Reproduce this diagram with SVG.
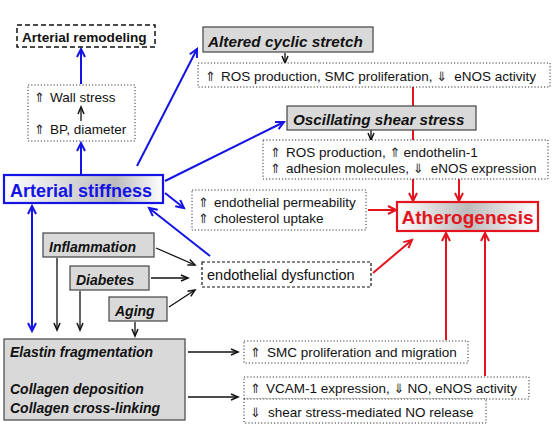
<svg xmlns="http://www.w3.org/2000/svg" width="559" height="438" viewBox="0 0 559 438">
<style>
.t{font-family:"Liberation Sans",Arial,sans-serif;font-size:13.5px;fill:#111}
.a{font-family:"DejaVu Sans",sans-serif;font-size:13px;fill:#222}
.bi{font-family:"Liberation Sans",sans-serif;font-size:14px;font-weight:bold;font-style:italic;fill:#111}
.gray{fill:#d9d9d9;stroke:#444;stroke-width:1.2}
.dot{fill:#fff;stroke:#333;stroke-width:1;stroke-dasharray:1.2 2}
.dash{fill:#fff;stroke:#111;stroke-width:1.5;stroke-dasharray:5 3}
.bl{stroke:#1414e6;stroke-width:2;fill:none}
.rd{stroke:#e3141e;stroke-width:2;fill:none}
.bk{stroke:#111;stroke-width:1.3;fill:none}
</style>
<defs>
<marker id="ab" markerUnits="userSpaceOnUse" markerWidth="12" markerHeight="12" refX="9" refY="5" orient="auto"><path d="M1,1 L9,5 L1,9" fill="none" stroke="#1414e6" stroke-width="2"/></marker>
<marker id="ar" markerUnits="userSpaceOnUse" markerWidth="12" markerHeight="12" refX="9" refY="5" orient="auto"><path d="M1,1 L9,5 L1,9" fill="none" stroke="#e3141e" stroke-width="2"/></marker>
<marker id="ak" markerUnits="userSpaceOnUse" markerWidth="10" markerHeight="10" refX="8" refY="4" orient="auto"><path d="M1,1 L8,4 L1,7" fill="none" stroke="#111" stroke-width="1.5"/></marker>
<linearGradient id="gs" x1="0" x2="1" y1="0" y2="0"><stop offset="0" stop-color="#fff"/><stop offset="0.7" stop-color="#bbb"/><stop offset="1" stop-color="#fff"/></linearGradient>
<linearGradient id="ga" x1="0" x2="1" y1="0" y2="0"><stop offset="0" stop-color="#fff"/><stop offset="0.5" stop-color="#bbb"/><stop offset="1" stop-color="#fff"/></linearGradient>
</defs>
<rect x="0" y="0" width="559" height="438" fill="#fff"/>
<g id="connectors">
<line class="rd" x1="413" y1="87" x2="413" y2="201" marker-end="url(#ar)"/>
<line class="rd" x1="459" y1="179" x2="459" y2="201" marker-end="url(#ar)"/>
<line class="rd" x1="368" y1="210" x2="396" y2="210" marker-end="url(#ar)"/>
<line class="rd" x1="373" y1="273" x2="412" y2="240" marker-end="url(#ar)"/>
<line class="rd" x1="446" y1="340" x2="446" y2="233" marker-end="url(#ar)"/>
<line class="rd" x1="485" y1="376" x2="485" y2="233" marker-end="url(#ar)"/>
<line class="bl" x1="81" y1="84" x2="81" y2="49" marker-end="url(#ab)"/>
<line class="bl" x1="81" y1="174" x2="81" y2="143" marker-end="url(#ab)"/>
<line class="bl" x1="137" y1="166" x2="197" y2="49" marker-end="url(#ab)"/>
<line class="bl" x1="165" y1="181" x2="284" y2="122" marker-end="url(#ab)"/>
<line class="bl" x1="165" y1="193" x2="184" y2="208" marker-end="url(#ab)"/>
<line class="bl" x1="210" y1="256" x2="149" y2="208" marker-end="url(#ab)"/>
<line class="bl" x1="32" y1="220" x2="32" y2="206" marker-end="url(#ab)"/>
<line class="bl" x1="32" y1="210" x2="32" y2="331" marker-end="url(#ab)"/>
<line class="bk" x1="285" y1="53" x2="285" y2="63" marker-end="url(#ak)"/>
<line class="bk" x1="371" y1="130" x2="371" y2="140" marker-end="url(#ak)"/>
<line class="bk" x1="156" y1="248" x2="195" y2="265" marker-end="url(#ak)"/>
<line class="bk" x1="151" y1="278" x2="188" y2="278" marker-end="url(#ak)"/>
<line class="bk" x1="169" y1="307" x2="195" y2="290" marker-end="url(#ak)"/>
<line class="bk" x1="57" y1="258" x2="57" y2="330" marker-end="url(#ak)"/>
<line class="bk" x1="80" y1="291" x2="80" y2="330" marker-end="url(#ak)"/>
<line class="bk" x1="135" y1="322" x2="135" y2="336" marker-end="url(#ak)"/>
<line class="bk" x1="188" y1="352" x2="238" y2="352" marker-end="url(#ak)"/>
<line class="bk" x1="188" y1="397" x2="238" y2="397" marker-end="url(#ak)"/>
</g>

<g id="remodeling"><rect class="dash" x="17" y="25" width="138" height="22"/><text x="22" y="42" class="t" style="font-weight:bold;font-size:13.6px">Arterial remodeling</text></g>

<g id="wallstress"><rect class="dot" x="28" y="85" width="107" height="56"/>
<text x="34" y="102" class="t"><tspan class="a">⇑</tspan><tspan x="50">Wall stress</tspan></text>
<text x="34" y="134" class="t"><tspan class="a">⇑</tspan><tspan x="50">BP, diameter</tspan></text>
<line class="bk" x1="81" y1="121" x2="81" y2="107" marker-end="url(#ak)"/></g>

<g id="cyclic"><rect class="gray" x="203" y="27" width="170" height="25"/><text x="208" y="47" class="bi" style="font-size:15.3px">Altered cyclic stretch</text></g>

<g id="ros1"><rect class="dot" x="198" y="63" width="352" height="24"/><text x="205" y="81" class="t"><tspan class="a">⇑</tspan><tspan x="221">ROS production, SMC proliferation, </tspan><tspan class="a">⇓</tspan><tspan dx="7">eNOS activity</tspan></text></g>

<g id="oscillating"><rect class="gray" x="287" y="106" width="189" height="24"/><text x="293" y="125" class="bi" style="font-size:15.2px">Oscillating shear stress</text></g>

<g id="ros2"><rect class="dot" x="263" y="140" width="285" height="39"/>
<text x="270" y="157" class="t"><tspan class="a">⇑</tspan><tspan x="286">ROS production, </tspan><tspan class="a">⇑</tspan><tspan dx="3">endothelin-1</tspan></text>
<text x="270" y="173" class="t"><tspan class="a">⇑</tspan><tspan x="286">adhesion molecules, </tspan><tspan class="a">⇓</tspan><tspan dx="7">eNOS expression</tspan></text></g>

<g id="stiffness"><rect x="4" y="175" width="159" height="28" fill="url(#gs)" stroke="#1414e6" stroke-width="2.2"/><text x="10" y="197" style="font-family:'Liberation Sans',sans-serif;font-weight:bold;font-size:18px;fill:#1414e6">Arterial stiffness</text></g>

<g id="permeability"><rect class="dot" x="192" y="190" width="174" height="40"/>
<text x="198" y="207" class="t"><tspan class="a">⇑</tspan><tspan x="214">endothelial permeability</tspan></text>
<text x="198" y="223" class="t"><tspan class="a">⇑</tspan><tspan x="214">cholesterol uptake</tspan></text></g>

<g id="atherogenesis"><rect x="397" y="202" width="141" height="29" fill="url(#ga)" stroke="#e3141e" stroke-width="2.2"/><text x="467.5" y="224" text-anchor="middle" style="font-family:'Liberation Sans',sans-serif;font-weight:bold;font-size:19px;fill:#e3141e">Atherogenesis</text></g>

<g id="dysfunction"><rect class="dash" x="202" y="262" width="169" height="25" style="stroke-width:1.2;stroke-dasharray:3 2"/><text x="207" y="280" class="t" style="font-size:14.5px">endothelial dysfunction</text></g>

<g id="inflammation"><rect class="gray" x="43" y="233" width="111" height="24"/><text x="49" y="252" class="bi">Inflammation</text></g>
<g id="diabetes"><rect class="gray" x="70" y="266" width="79" height="24"/><text x="76" y="285" class="bi">Diabetes</text></g>
<g id="aging"><rect class="gray" x="109" y="297" width="58" height="24"/><text x="115" y="316" class="bi">Aging</text></g>

<g id="elastin"><rect class="gray" x="4" y="339" width="181" height="81"/>
<text x="10" y="357" class="bi">Elastin fragmentation</text>
<text x="10" y="394" class="bi">Collagen deposition</text>
<text x="10" y="413" class="bi">Collagen cross-linking</text></g>

<g id="smc"><rect class="dot" x="244" y="341" width="224" height="22"/><text x="250" y="357" class="t"><tspan class="a">⇑</tspan><tspan x="267">SMC proliferation and migration</tspan></text></g>
<g id="vcam"><rect class="dot" x="244" y="377" width="285" height="22"/><text x="250" y="393" class="t"><tspan class="a">⇑</tspan><tspan x="266">VCAM-1 expression, </tspan><tspan class="a">⇓</tspan><tspan dx="3">NO, eNOS activity</tspan></text></g>
<g id="shearno"><rect class="dot" x="244" y="399" width="242" height="24"/><text x="250" y="417" class="t"><tspan class="a">⇓</tspan><tspan x="268">shear stress-mediated NO release</tspan></text></g>
</svg>
